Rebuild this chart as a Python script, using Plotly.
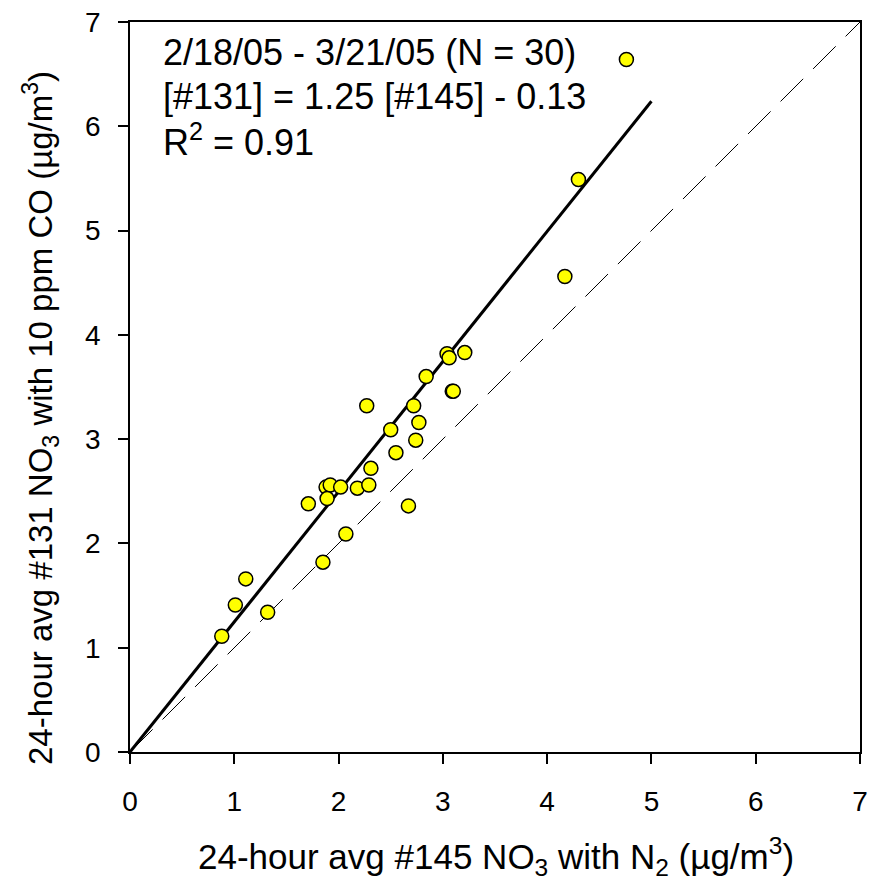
import plotly.graph_objects as go

# Data
x145 = [4.76, 4.30, 4.17, 3.04, 3.21, 3.06, 2.84, 2.27, 2.72, 3.09,
        3.10, 2.77, 2.50, 2.74, 2.55, 2.31, 1.88, 1.92, 2.02, 2.18,
        2.29, 1.89, 1.71, 2.67, 2.07, 1.85, 1.11, 1.01, 1.32, 0.88]
y131 = [6.64, 5.49, 4.56, 3.82, 3.83, 3.78, 3.60, 3.32, 3.32, 3.46,
        3.46, 3.16, 3.09, 2.99, 2.87, 2.72, 2.54, 2.56, 2.54, 2.53,
        2.56, 2.43, 2.38, 2.36, 2.09, 1.82, 1.66, 1.41, 1.34, 1.11]

fit_x = [0, 5]
fit_y = [0, 6.24]
one_to_one = [0, 7]
tick_vals = [0, 1, 2, 3, 4, 5, 6, 7]
tick_text = ["0", "1", "2", "3", "4", "5", "6", "7"]
stat_lines = ["2/18/05 - 3/21/05 (N = 30)",
              "[#131] = 1.25 [#145] - 0.13",
              "R<sup>2</sup> = 0.91"]

FONT = "Liberation Sans, Arial, sans-serif"

fig = go.Figure()
fig.add_trace(go.Scatter(x=one_to_one, y=one_to_one, mode="lines",
                         line=dict(color="black", width=1, dash="32px,14px"),
                         showlegend=False, hoverinfo="skip"))
fig.add_trace(go.Scatter(x=fit_x, y=fit_y, mode="lines",
                         line=dict(color="black", width=3),
                         showlegend=False, hoverinfo="skip"))
fig.add_trace(go.Scatter(x=x145, y=y131, mode="markers",
                         marker=dict(size=14, color="#ffff00",
                                     line=dict(color="black", width=1.5)),
                         showlegend=False))

axis_common = dict(range=[0, 7], tickvals=tick_vals, ticktext=tick_text,
                   showgrid=False, zeroline=False, showline=True,
                   linecolor="black", linewidth=1.5, mirror=True,
                   ticks="outside", ticklen=10, tickwidth=1.5, tickcolor="black",
                   automargin=False,
                   tickfont=dict(family=FONT, size=28, color="black"))

# plot area: x 130..860 px, y 22..752 px (730 px each)
def py(pix):
    return (752 - pix) / 730.0

def px(pix):
    return (pix - 130) / 730.0

annotations = []
for i, line in enumerate(stat_lines):
    annotations.append(dict(text=line, xref="paper", yref="paper",
                            x=px(161), y=py(52 + 44 * i),
                            xanchor="left", yanchor="middle", align="left",
                            showarrow=False,
                            font=dict(family=FONT, size=36, color="black")))
annotations.append(dict(text="24-hour avg #145 NO<sub>3</sub> with N<sub>2</sub> (µg/m<sup>3</sup>)",
                        xref="paper", yref="paper", x=px(496), y=py(856),
                        xanchor="center", yanchor="middle", showarrow=False,
                        font=dict(family=FONT, size=35, color="black")))
annotations.append(dict(text="24-hour avg #131 NO<sub>3</sub> with 10 ppm CO (µg/m<sup>3</sup>)",
                        xref="paper", yref="paper", x=px(40), y=py(418), textangle=-90,
                        xanchor="center", yanchor="middle", showarrow=False,
                        font=dict(family=FONT, size=33, color="black")))

fig.update_layout(
    template="none",
    width=872, height=883,
    margin=dict(l=130, r=12, t=22, b=131, autoexpand=False),
    plot_bgcolor="white", paper_bgcolor="white",
    xaxis=dict(**axis_common, ticklabelstandoff=14),
    yaxis=dict(**axis_common, ticklabelstandoff=12),
    font=dict(family=FONT, color="black"),
    annotations=annotations,
)

fig.write_html("out.html")
